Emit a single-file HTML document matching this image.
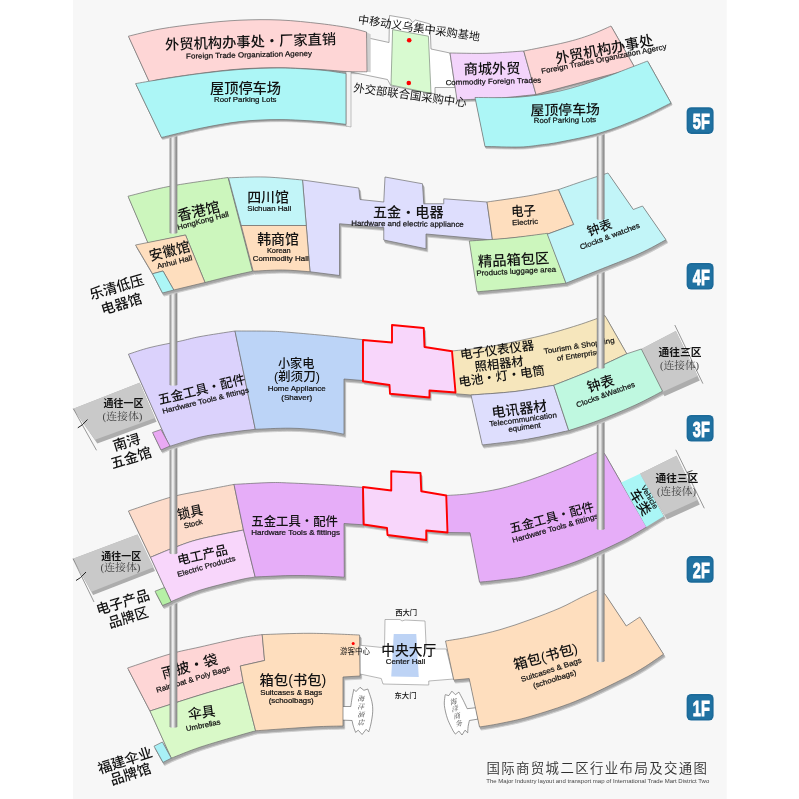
<!DOCTYPE html>
<html lang="zh-CN"><head><meta charset="utf-8"><title>国际商贸城二区行业布局及交通图</title>
<style>html,body{margin:0;padding:0;background:#fff;}body{width:799px;height:799px;overflow:hidden;}svg{display:block;}</style>
</head><body>
<svg width="799" height="799" viewBox="0 0 799 799">
<defs>
<linearGradient id="pil" x1="0" x2="1" y1="0" y2="0">
<stop offset="0" stop-color="#7e7e7e"/><stop offset="0.12" stop-color="#a2a2a2"/><stop offset="0.4" stop-color="#f4f4f4"/><stop offset="0.52" stop-color="#e2e2e2"/><stop offset="0.78" stop-color="#a0a0a0"/><stop offset="0.92" stop-color="#8c8c8c"/><stop offset="1" stop-color="#777777"/>
</linearGradient>
</defs>
<rect x="0" y="0" width="799" height="799" fill="#ffffff"/>
<rect x="73" y="0" width="653.7" height="799" fill="#f7f7f7"/>
<g id="f1">
<g transform="translate(1.7,3.1)" fill="#c8c8c8" stroke="#c8c8c8" stroke-width="0.8" stroke-linejoin="round">
<path d="M127.60 668.00 C134.67 665.67 157.93 657.50 170.00 654.00 C182.07 650.50 188.33 649.67 200.00 647.00 C211.67 644.33 229.63 640.07 240.00 638.00 C250.37 635.93 258.50 635.17 262.20 634.60 L264.60 660.50 L240.30 666.00 L243.30 682.40 C236.08 684.50 215.55 690.23 200.00 695.00 C184.45 699.77 158.33 708.33 150.00 711.00 Z"/>
<path d="M150.00 711.00 C158.33 708.33 184.45 699.77 200.00 695.00 C215.55 690.23 236.08 684.50 243.30 682.40 L255.60 730.80 C253.00 731.53 249.27 732.47 240.00 735.20 C230.73 737.93 211.45 743.37 200.00 747.20 C188.55 751.03 176.08 756.37 171.30 758.20 Z"/>
<path d="M154.00 746.20 L162.40 742.00 L171.30 758.20 L163.00 762.40 Z"/>
<path d="M262.20 634.60 C270.17 634.38 293.77 633.23 310.00 633.30 C326.23 633.37 351.33 634.72 359.60 635.00 L360.00 676.00 L343.00 677.00 L343.00 726.00 C339.17 726.10 328.83 726.20 320.00 726.60 C311.17 727.00 300.73 727.70 290.00 728.40 C279.27 729.10 261.33 730.40 255.60 730.80 L243.30 682.40 L240.30 666.00 L264.60 660.50 Z"/>
<path d="M445.50 641.00 C449.58 640.30 460.92 638.68 470.00 636.80 C479.08 634.92 490.00 632.55 500.00 629.70 C510.00 626.85 520.00 623.32 530.00 619.70 C540.00 616.08 551.50 611.70 560.00 608.00 C568.50 604.30 574.75 600.50 581.00 597.50 C587.25 594.50 594.75 591.25 597.50 590.00 L605.00 594.00 L626.25 626.00 L639.80 617.00 L663.50 654.20 C660.08 656.50 650.25 663.62 643.00 668.00 C635.75 672.38 631.33 674.92 620.00 680.50 C608.67 686.08 590.00 695.50 575.00 701.50 C560.00 707.50 542.50 712.83 530.00 716.50 C517.50 720.17 508.42 721.75 500.00 723.50 C491.58 725.25 482.92 726.42 479.50 727.00 L469.20 678.60 L453.75 680.00 Z"/>
</g>
<g transform="translate(1.0,2.0)" fill="#a6a6a6" stroke="#a6a6a6" stroke-width="0.8" stroke-linejoin="round">
<path d="M127.60 668.00 C134.67 665.67 157.93 657.50 170.00 654.00 C182.07 650.50 188.33 649.67 200.00 647.00 C211.67 644.33 229.63 640.07 240.00 638.00 C250.37 635.93 258.50 635.17 262.20 634.60 L264.60 660.50 L240.30 666.00 L243.30 682.40 C236.08 684.50 215.55 690.23 200.00 695.00 C184.45 699.77 158.33 708.33 150.00 711.00 Z"/>
<path d="M150.00 711.00 C158.33 708.33 184.45 699.77 200.00 695.00 C215.55 690.23 236.08 684.50 243.30 682.40 L255.60 730.80 C253.00 731.53 249.27 732.47 240.00 735.20 C230.73 737.93 211.45 743.37 200.00 747.20 C188.55 751.03 176.08 756.37 171.30 758.20 Z"/>
<path d="M154.00 746.20 L162.40 742.00 L171.30 758.20 L163.00 762.40 Z"/>
<path d="M262.20 634.60 C270.17 634.38 293.77 633.23 310.00 633.30 C326.23 633.37 351.33 634.72 359.60 635.00 L360.00 676.00 L343.00 677.00 L343.00 726.00 C339.17 726.10 328.83 726.20 320.00 726.60 C311.17 727.00 300.73 727.70 290.00 728.40 C279.27 729.10 261.33 730.40 255.60 730.80 L243.30 682.40 L240.30 666.00 L264.60 660.50 Z"/>
<path d="M445.50 641.00 C449.58 640.30 460.92 638.68 470.00 636.80 C479.08 634.92 490.00 632.55 500.00 629.70 C510.00 626.85 520.00 623.32 530.00 619.70 C540.00 616.08 551.50 611.70 560.00 608.00 C568.50 604.30 574.75 600.50 581.00 597.50 C587.25 594.50 594.75 591.25 597.50 590.00 L605.00 594.00 L626.25 626.00 L639.80 617.00 L663.50 654.20 C660.08 656.50 650.25 663.62 643.00 668.00 C635.75 672.38 631.33 674.92 620.00 680.50 C608.67 686.08 590.00 695.50 575.00 701.50 C560.00 707.50 542.50 712.83 530.00 716.50 C517.50 720.17 508.42 721.75 500.00 723.50 C491.58 725.25 482.92 726.42 479.50 727.00 L469.20 678.60 L453.75 680.00 Z"/>
</g>
<path d="M353.80 689.40 L356.00 691.60 L360.00 687.30 L363.90 690.30 L367.80 689.00 C368.47 691.05 370.98 697.50 371.80 701.30 C372.62 705.10 372.85 708.02 372.70 711.80 C372.55 715.58 371.57 720.65 370.90 724.00 C370.23 727.35 369.07 730.58 368.70 731.90 L366.10 729.30 L362.10 734.50 L358.20 730.20 L355.60 732.40 L353.80 727.50 C353.63 726.92 353.08 725.17 352.80 724.00 C352.52 722.83 352.22 721.08 352.10 720.50 L342.40 720.10 L342.40 706.50 L350.80 706.50 C351.02 705.05 351.60 700.65 352.10 697.80 C352.60 694.95 353.52 690.80 353.80 689.40 Z" fill="#ffffff" stroke="#555" stroke-width="0.6" stroke-linejoin="round"/>
<path d="M445.30 694.70 L448.80 695.60 L451.90 691.20 L455.40 694.70 L458.90 692.10 C459.63 693.48 461.92 697.63 463.30 700.40 C464.68 703.17 466.55 707.32 467.20 708.70 L476.00 707.70 L478.00 719.10 L469.40 720.50 C469.18 721.53 468.38 724.65 468.10 726.70 C467.82 728.75 467.77 731.78 467.70 732.80 L465.00 730.20 L462.00 735.00 L458.90 731.00 L455.40 734.10 L453.20 731.00 C452.25 728.97 448.97 723.03 447.50 718.80 C446.03 714.57 444.83 709.25 444.40 705.60 C443.97 701.95 444.75 698.72 444.90 696.90 C445.05 695.08 445.23 695.07 445.30 694.70 Z" fill="#ffffff" stroke="#555" stroke-width="0.6" stroke-linejoin="round"/>
<path d="M360.00 645.25 L384.50 647.75 L385.00 619.50 L400.00 619.50 L402.00 621.00 L405.00 620.00 L425.00 621.00 L426.25 649.00 L446.25 649.00 L453.75 679.00 L428.75 681.00 L428.75 685.00 L383.00 684.00 L381.25 678.50 L360.00 674.00 Z" fill="#ffffff" stroke="#8a8a8a" stroke-width="0.6" stroke-linejoin="round"/>
<path d="M393.75 634.00 L416.25 634.00 L418.75 677.00 L391.25 676.50 Z" fill="#bdd3f5" stroke="none" stroke-width="0" stroke-linejoin="round"/>
<path d="M127.60 668.00 C134.67 665.67 157.93 657.50 170.00 654.00 C182.07 650.50 188.33 649.67 200.00 647.00 C211.67 644.33 229.63 640.07 240.00 638.00 C250.37 635.93 258.50 635.17 262.20 634.60 L264.60 660.50 L240.30 666.00 L243.30 682.40 C236.08 684.50 215.55 690.23 200.00 695.00 C184.45 699.77 158.33 708.33 150.00 711.00 Z" fill="#fed6d6" stroke="#6e6e6e" stroke-width="0.7" stroke-linejoin="round"/>
<path d="M150.00 711.00 C158.33 708.33 184.45 699.77 200.00 695.00 C215.55 690.23 236.08 684.50 243.30 682.40 L255.60 730.80 C253.00 731.53 249.27 732.47 240.00 735.20 C230.73 737.93 211.45 743.37 200.00 747.20 C188.55 751.03 176.08 756.37 171.30 758.20 Z" fill="#d9f9c8" stroke="#6e6e6e" stroke-width="0.7" stroke-linejoin="round"/>
<path d="M154.00 746.20 L162.40 742.00 L171.30 758.20 L163.00 762.40 Z" fill="#a8f0f6" stroke="#6e6e6e" stroke-width="0.7" stroke-linejoin="round"/>
<path d="M262.20 634.60 C270.17 634.38 293.77 633.23 310.00 633.30 C326.23 633.37 351.33 634.72 359.60 635.00 L360.00 676.00 L343.00 677.00 L343.00 726.00 C339.17 726.10 328.83 726.20 320.00 726.60 C311.17 727.00 300.73 727.70 290.00 728.40 C279.27 729.10 261.33 730.40 255.60 730.80 L243.30 682.40 L240.30 666.00 L264.60 660.50 Z" fill="#fedebe" stroke="#6e6e6e" stroke-width="0.7" stroke-linejoin="round"/>
<path d="M445.50 641.00 C449.58 640.30 460.92 638.68 470.00 636.80 C479.08 634.92 490.00 632.55 500.00 629.70 C510.00 626.85 520.00 623.32 530.00 619.70 C540.00 616.08 551.50 611.70 560.00 608.00 C568.50 604.30 574.75 600.50 581.00 597.50 C587.25 594.50 594.75 591.25 597.50 590.00 L605.00 594.00 L626.25 626.00 L639.80 617.00 L663.50 654.20 C660.08 656.50 650.25 663.62 643.00 668.00 C635.75 672.38 631.33 674.92 620.00 680.50 C608.67 686.08 590.00 695.50 575.00 701.50 C560.00 707.50 542.50 712.83 530.00 716.50 C517.50 720.17 508.42 721.75 500.00 723.50 C491.58 725.25 482.92 726.42 479.50 727.00 L469.20 678.60 L453.75 680.00 Z" fill="#fedebe" stroke="#6e6e6e" stroke-width="0.7" stroke-linejoin="round"/>
<circle cx="353.2" cy="643.5" r="1.5" fill="#f00"/>
<g opacity="0.995">
<text x="189.70" y="671.50" font-size="14.30" font-weight="500" font-family="'Liberation Sans','Noto Sans CJK SC',sans-serif" fill="#111" text-anchor="middle" textLength="57.5" lengthAdjust="spacingAndGlyphs" transform="rotate(-15.0 189.70 666.50)" >雨披・袋</text>
<text x="193.00" y="681.59" font-size="7.40" font-weight="400" font-family="'Liberation Sans',sans-serif" fill="#111" text-anchor="middle" textLength="77.0" lengthAdjust="spacingAndGlyphs" transform="rotate(-17.0 193.00 679.00)" stroke="#111" stroke-width="0.22">Raincoat &amp; Poly Bags</text>
<text x="201.70" y="717.60" font-size="14.00" font-weight="500" font-family="'Liberation Sans','Noto Sans CJK SC',sans-serif" fill="#111" text-anchor="middle" textLength="27.5" lengthAdjust="spacingAndGlyphs" transform="rotate(-8.0 201.70 712.70)" >伞具</text>
<text x="203.20" y="727.79" font-size="7.40" font-weight="400" font-family="'Liberation Sans',sans-serif" fill="#111" text-anchor="middle" textLength="35.0" lengthAdjust="spacingAndGlyphs" transform="rotate(-12.0 203.20 725.20)" stroke="#111" stroke-width="0.22">Umbrellas</text>
<text x="125.00" y="765.40" font-size="14.00" font-weight="500" font-family="'Liberation Sans','Noto Sans CJK SC',sans-serif" fill="#111" text-anchor="middle" textLength="56.5" lengthAdjust="spacingAndGlyphs" transform="rotate(-18.0 125.00 760.50)" >福建伞业</text>
<text x="130.50" y="779.10" font-size="14.00" font-weight="500" font-family="'Liberation Sans','Noto Sans CJK SC',sans-serif" fill="#111" text-anchor="middle" textLength="42.0" lengthAdjust="spacingAndGlyphs" transform="rotate(-18.0 130.50 774.20)" >品牌馆</text>
<text x="292.90" y="685.10" font-size="14.00" font-weight="500" font-family="'Liberation Sans','Noto Sans CJK SC',sans-serif" fill="#111" text-anchor="middle" textLength="66.7" lengthAdjust="spacingAndGlyphs" >箱包(书包)</text>
<text x="291.20" y="694.59" font-size="7.40" font-weight="400" font-family="'Liberation Sans',sans-serif" fill="#111" text-anchor="middle" textLength="62.0" lengthAdjust="spacingAndGlyphs" stroke="#111" stroke-width="0.22">Suitcases &amp; Bags</text>
<text x="291.20" y="702.79" font-size="7.40" font-weight="400" font-family="'Liberation Sans',sans-serif" fill="#111" text-anchor="middle" textLength="45.0" lengthAdjust="spacingAndGlyphs" stroke="#111" stroke-width="0.22">(schoolbags)</text>
<text x="355.00" y="654.33" font-size="7.50" font-weight="400" font-family="'Liberation Sans','Noto Sans CJK SC',sans-serif" fill="#111" text-anchor="middle" textLength="30.0" lengthAdjust="spacingAndGlyphs" >游客中心</text>
<text x="408.70" y="655.03" font-size="13.80" font-weight="500" font-family="'Liberation Sans','Noto Sans CJK SC',sans-serif" fill="#111" text-anchor="middle" textLength="55.0" lengthAdjust="spacingAndGlyphs" >中央大厅</text>
<text x="405.50" y="663.59" font-size="7.40" font-weight="400" font-family="'Liberation Sans',sans-serif" fill="#111" text-anchor="middle" textLength="39.5" lengthAdjust="spacingAndGlyphs" stroke="#111" stroke-width="0.22">Center Hall</text>
<text x="406.20" y="615.29" font-size="7.40" font-weight="500" font-family="'Liberation Sans','Noto Sans CJK SC',sans-serif" fill="#111" text-anchor="middle" textLength="22.0" lengthAdjust="spacingAndGlyphs" >西大门</text>
<text x="405.50" y="697.79" font-size="7.40" font-weight="500" font-family="'Liberation Sans','Noto Sans CJK SC',sans-serif" fill="#111" text-anchor="middle" textLength="22.0" lengthAdjust="spacingAndGlyphs" >东大门</text>
<text x="545.50" y="661.40" font-size="14.00" font-weight="500" font-family="'Liberation Sans','Noto Sans CJK SC',sans-serif" fill="#111" text-anchor="middle" textLength="66.0" lengthAdjust="spacingAndGlyphs" transform="rotate(-15.3 545.50 656.50)" >箱包(书包)</text>
<text x="551.20" y="672.29" font-size="7.40" font-weight="400" font-family="'Liberation Sans',sans-serif" fill="#111" text-anchor="middle" textLength="63.5" lengthAdjust="spacingAndGlyphs" transform="rotate(-18.0 551.20 669.70)" stroke="#111" stroke-width="0.22">Suitcases &amp; Bags</text>
<text x="554.50" y="681.59" font-size="7.40" font-weight="400" font-family="'Liberation Sans',sans-serif" fill="#111" text-anchor="middle" textLength="45.0" lengthAdjust="spacingAndGlyphs" transform="rotate(-18.0 554.50 679.00)" stroke="#111" stroke-width="0.22">(schoolbags)</text>
<text x="360.80" y="701.12" font-size="7.00" font-weight="400" font-family="'Liberation Serif','Noto Serif CJK SC',serif" fill="#444" text-anchor="middle" font-style="italic">海</text>
<text x="360.80" y="709.32" font-size="7.00" font-weight="400" font-family="'Liberation Serif','Noto Serif CJK SC',serif" fill="#444" text-anchor="middle" font-style="italic">洋</text>
<text x="360.80" y="717.32" font-size="7.00" font-weight="400" font-family="'Liberation Serif','Noto Serif CJK SC',serif" fill="#444" text-anchor="middle" font-style="italic">酒</text>
<text x="360.80" y="725.12" font-size="7.00" font-weight="400" font-family="'Liberation Serif','Noto Serif CJK SC',serif" fill="#444" text-anchor="middle" font-style="italic">店</text>
<text x="453.20" y="704.22" font-size="7.00" font-weight="400" font-family="'Liberation Serif','Noto Serif CJK SC',serif" fill="#444" text-anchor="middle" transform="rotate(-13.0 453.20 701.70)" font-style="italic">海</text>
<text x="454.70" y="711.32" font-size="7.00" font-weight="400" font-family="'Liberation Serif','Noto Serif CJK SC',serif" fill="#444" text-anchor="middle" transform="rotate(-13.0 454.70 708.80)" font-style="italic">洋</text>
<text x="456.70" y="718.42" font-size="7.00" font-weight="400" font-family="'Liberation Serif','Noto Serif CJK SC',serif" fill="#444" text-anchor="middle" transform="rotate(-13.0 456.70 715.90)" font-style="italic">商</text>
<text x="458.60" y="725.92" font-size="7.00" font-weight="400" font-family="'Liberation Serif','Noto Serif CJK SC',serif" fill="#444" text-anchor="middle" transform="rotate(-13.0 458.60 723.40)" font-style="italic">务</text>
</g>
</g>
<rect x="169.60" y="603.00" width="7.70" height="123.50" fill="url(#pil)"/><ellipse cx="173.45" cy="726.50" rx="3.85" ry="1.2" fill="url(#pil)"/>
<rect x="596.80" y="552.00" width="7.70" height="109.00" fill="url(#pil)"/><ellipse cx="600.65" cy="661.00" rx="3.85" ry="1.2" fill="url(#pil)"/>
<g id="f2">
<g transform="translate(1.7,3.1)" fill="#c8c8c8" stroke="#c8c8c8" stroke-width="0.8" stroke-linejoin="round">
<path d="M128.40 511.00 C132.00 509.78 142.23 506.20 150.00 503.70 C157.77 501.20 166.67 498.12 175.00 496.00 C183.33 493.88 190.17 492.93 200.00 491.00 C209.83 489.07 228.33 485.50 234.00 484.40 L243.50 530.00 C236.25 531.50 211.42 536.12 200.00 539.00 C188.58 541.88 183.25 544.25 175.00 547.30 C166.75 550.35 154.58 555.63 150.50 557.30 Z"/>
<path d="M150.50 557.30 C154.58 555.63 166.75 550.35 175.00 547.30 C183.25 544.25 188.58 541.88 200.00 539.00 C211.42 536.12 236.25 531.50 243.50 530.00 L255.20 577.00 C252.67 577.47 249.20 577.60 240.00 579.80 C230.80 582.00 211.50 586.57 200.00 590.20 C188.50 593.83 175.83 599.70 171.00 601.60 Z"/>
<path d="M155.00 591.25 L164.50 587.50 L171.25 602.00 L162.50 605.50 Z"/>
<path d="M234.00 484.40 C240.00 484.10 260.67 482.83 270.00 482.60 C279.33 482.37 280.00 482.60 290.00 483.00 C300.00 483.40 317.92 484.27 330.00 485.00 C342.08 485.73 357.08 487.00 362.50 487.40 L363.00 524.80 L344.00 523.50 L344.30 577.20 C340.25 577.00 329.05 576.27 320.00 576.00 C310.95 575.73 300.80 575.43 290.00 575.60 C279.20 575.77 261.00 576.77 255.20 577.00 L243.50 530.00 Z"/>
<path d="M446.25 495.50 C450.21 495.20 461.04 494.83 470.00 493.70 C478.96 492.57 490.00 491.00 500.00 488.70 C510.00 486.40 520.00 483.25 530.00 479.90 C540.00 476.55 551.50 471.98 560.00 468.60 C568.50 465.22 574.75 462.32 581.00 459.60 C587.25 456.88 594.75 453.52 597.50 452.30 L604.50 453.50 L621.25 482.80 L646.70 527.00 C642.25 529.50 631.95 536.17 620.00 542.00 C608.05 547.83 590.00 556.43 575.00 562.00 C560.00 567.57 542.50 572.40 530.00 575.40 C517.50 578.40 508.42 578.87 500.00 580.00 C491.58 581.13 482.92 581.83 479.50 582.20 L470.00 532.80 L447.50 532.50 Z"/>
<path d="M621.25 482.50 L640.00 473.75 L663.75 516.25 L646.25 527.00 Z"/>
<path d="M363.00 487.00 L391.25 490.50 L391.25 471.25 L420.50 473.00 L421.25 491.25 L446.25 495.50 L447.50 532.50 L426.25 530.50 L426.25 540.00 L387.50 535.00 L387.00 528.00 L363.75 524.50 Z"/>
</g>
<g transform="translate(1.0,2.0)" fill="#a6a6a6" stroke="#a6a6a6" stroke-width="0.8" stroke-linejoin="round">
<path d="M128.40 511.00 C132.00 509.78 142.23 506.20 150.00 503.70 C157.77 501.20 166.67 498.12 175.00 496.00 C183.33 493.88 190.17 492.93 200.00 491.00 C209.83 489.07 228.33 485.50 234.00 484.40 L243.50 530.00 C236.25 531.50 211.42 536.12 200.00 539.00 C188.58 541.88 183.25 544.25 175.00 547.30 C166.75 550.35 154.58 555.63 150.50 557.30 Z"/>
<path d="M150.50 557.30 C154.58 555.63 166.75 550.35 175.00 547.30 C183.25 544.25 188.58 541.88 200.00 539.00 C211.42 536.12 236.25 531.50 243.50 530.00 L255.20 577.00 C252.67 577.47 249.20 577.60 240.00 579.80 C230.80 582.00 211.50 586.57 200.00 590.20 C188.50 593.83 175.83 599.70 171.00 601.60 Z"/>
<path d="M155.00 591.25 L164.50 587.50 L171.25 602.00 L162.50 605.50 Z"/>
<path d="M234.00 484.40 C240.00 484.10 260.67 482.83 270.00 482.60 C279.33 482.37 280.00 482.60 290.00 483.00 C300.00 483.40 317.92 484.27 330.00 485.00 C342.08 485.73 357.08 487.00 362.50 487.40 L363.00 524.80 L344.00 523.50 L344.30 577.20 C340.25 577.00 329.05 576.27 320.00 576.00 C310.95 575.73 300.80 575.43 290.00 575.60 C279.20 575.77 261.00 576.77 255.20 577.00 L243.50 530.00 Z"/>
<path d="M446.25 495.50 C450.21 495.20 461.04 494.83 470.00 493.70 C478.96 492.57 490.00 491.00 500.00 488.70 C510.00 486.40 520.00 483.25 530.00 479.90 C540.00 476.55 551.50 471.98 560.00 468.60 C568.50 465.22 574.75 462.32 581.00 459.60 C587.25 456.88 594.75 453.52 597.50 452.30 L604.50 453.50 L621.25 482.80 L646.70 527.00 C642.25 529.50 631.95 536.17 620.00 542.00 C608.05 547.83 590.00 556.43 575.00 562.00 C560.00 567.57 542.50 572.40 530.00 575.40 C517.50 578.40 508.42 578.87 500.00 580.00 C491.58 581.13 482.92 581.83 479.50 582.20 L470.00 532.80 L447.50 532.50 Z"/>
<path d="M621.25 482.50 L640.00 473.75 L663.75 516.25 L646.25 527.00 Z"/>
<path d="M363.00 487.00 L391.25 490.50 L391.25 471.25 L420.50 473.00 L421.25 491.25 L446.25 495.50 L447.50 532.50 L426.25 530.50 L426.25 540.00 L387.50 535.00 L387.00 528.00 L363.75 524.50 Z"/>
</g>
<path d="M73.00 558.75 L137.50 534.50 L155.00 571.00 L93.10 595.00 Z" fill="#adadad" stroke="none" stroke-width="0" stroke-linejoin="round"/>
<path d="M73.00 558.75 L137.50 534.50 L153.50 567.30 L91.50 591.70 Z" fill="#c9c9c9" stroke="none" stroke-width="0" stroke-linejoin="round"/>
<path d="M640.00 473.75 L676.50 455.80 L699.80 504.50 L666.80 519.50 Z" fill="#adadad" stroke="none" stroke-width="0" stroke-linejoin="round"/>
<path d="M640.00 473.75 L676.50 455.80 L697.50 500.00 L664.50 515.00 Z" fill="#c9c9c9" stroke="none" stroke-width="0" stroke-linejoin="round"/>
<path d="M128.40 511.00 C132.00 509.78 142.23 506.20 150.00 503.70 C157.77 501.20 166.67 498.12 175.00 496.00 C183.33 493.88 190.17 492.93 200.00 491.00 C209.83 489.07 228.33 485.50 234.00 484.40 L243.50 530.00 C236.25 531.50 211.42 536.12 200.00 539.00 C188.58 541.88 183.25 544.25 175.00 547.30 C166.75 550.35 154.58 555.63 150.50 557.30 Z" fill="#fddccb" stroke="#6e6e6e" stroke-width="0.7" stroke-linejoin="round"/>
<path d="M150.50 557.30 C154.58 555.63 166.75 550.35 175.00 547.30 C183.25 544.25 188.58 541.88 200.00 539.00 C211.42 536.12 236.25 531.50 243.50 530.00 L255.20 577.00 C252.67 577.47 249.20 577.60 240.00 579.80 C230.80 582.00 211.50 586.57 200.00 590.20 C188.50 593.83 175.83 599.70 171.00 601.60 Z" fill="#f8d6fb" stroke="#6e6e6e" stroke-width="0.7" stroke-linejoin="round"/>
<path d="M155.00 591.25 L164.50 587.50 L171.25 602.00 L162.50 605.50 Z" fill="#b6f0a6" stroke="#6e6e6e" stroke-width="0.7" stroke-linejoin="round"/>
<path d="M234.00 484.40 C240.00 484.10 260.67 482.83 270.00 482.60 C279.33 482.37 280.00 482.60 290.00 483.00 C300.00 483.40 317.92 484.27 330.00 485.00 C342.08 485.73 357.08 487.00 362.50 487.40 L363.00 524.80 L344.00 523.50 L344.30 577.20 C340.25 577.00 329.05 576.27 320.00 576.00 C310.95 575.73 300.80 575.43 290.00 575.60 C279.20 575.77 261.00 576.77 255.20 577.00 L243.50 530.00 Z" fill="#e6adf8" stroke="#6e6e6e" stroke-width="0.7" stroke-linejoin="round"/>
<path d="M446.25 495.50 C450.21 495.20 461.04 494.83 470.00 493.70 C478.96 492.57 490.00 491.00 500.00 488.70 C510.00 486.40 520.00 483.25 530.00 479.90 C540.00 476.55 551.50 471.98 560.00 468.60 C568.50 465.22 574.75 462.32 581.00 459.60 C587.25 456.88 594.75 453.52 597.50 452.30 L604.50 453.50 L621.25 482.80 L646.70 527.00 C642.25 529.50 631.95 536.17 620.00 542.00 C608.05 547.83 590.00 556.43 575.00 562.00 C560.00 567.57 542.50 572.40 530.00 575.40 C517.50 578.40 508.42 578.87 500.00 580.00 C491.58 581.13 482.92 581.83 479.50 582.20 L470.00 532.80 L447.50 532.50 Z" fill="#e6adf8" stroke="#6e6e6e" stroke-width="0.7" stroke-linejoin="round"/>
<path d="M621.25 482.50 L640.00 473.75 L663.75 516.25 L646.25 527.00 Z" fill="#aaf6f6" stroke="none" stroke-width="0" stroke-linejoin="round"/>
<path d="M363.00 487.00 L391.25 490.50 L391.25 471.25 L420.50 473.00 L421.25 491.25 L446.25 495.50 L447.50 532.50 L426.25 530.50 L426.25 540.00 L387.50 535.00 L387.00 528.00 L363.75 524.50 Z" fill="#f8d6fb" stroke="#ff0000" stroke-width="1.9" stroke-linejoin="round"/>
<path d="M73 558.7 L94 602 M675.8 449.8 L704.3 508.3" stroke="#555" stroke-width="0.6" fill="none"/><path d="M76 580.5 Q80 579 86 572" stroke="#222" stroke-width="1" fill="none"/><path d="M687 472.5 L692.5 470.5" stroke="#222" stroke-width="0.8" fill="none"/>
<g opacity="0.995">
<text x="190.00" y="517.23" font-size="13.50" font-weight="500" font-family="'Liberation Sans','Noto Sans CJK SC',sans-serif" fill="#111" text-anchor="middle" textLength="26.0" lengthAdjust="spacingAndGlyphs" transform="rotate(-12.0 190.00 512.50)" >锁具</text>
<text x="193.20" y="526.29" font-size="7.40" font-weight="400" font-family="'Liberation Sans',sans-serif" fill="#111" text-anchor="middle" textLength="19.0" lengthAdjust="spacingAndGlyphs" transform="rotate(-14.0 193.20 523.70)" stroke="#111" stroke-width="0.22">Stock</text>
<text x="202.50" y="559.48" font-size="12.80" font-weight="500" font-family="'Liberation Sans','Noto Sans CJK SC',sans-serif" fill="#111" text-anchor="middle" textLength="51.0" lengthAdjust="spacingAndGlyphs" transform="rotate(-12.7 202.50 555.00)" >电工产品</text>
<text x="206.20" y="568.79" font-size="7.40" font-weight="400" font-family="'Liberation Sans',sans-serif" fill="#111" text-anchor="middle" textLength="60.0" lengthAdjust="spacingAndGlyphs" transform="rotate(-16.0 206.20 566.20)" stroke="#111" stroke-width="0.22">Electric Products</text>
<text x="121.20" y="559.70" font-size="10.00" font-weight="700" font-family="'Liberation Sans','Noto Sans CJK SC',sans-serif" fill="#111" text-anchor="middle" textLength="40.0" lengthAdjust="spacingAndGlyphs" >通往一区</text>
<text x="120.50" y="571.10" font-size="10.00" font-weight="400" font-family="'Liberation Serif','Noto Serif CJK SC',serif" fill="#444" text-anchor="middle" textLength="40.0" lengthAdjust="spacingAndGlyphs" >(连接体)</text>
<text x="122.80" y="607.20" font-size="14.00" font-weight="500" font-family="'Liberation Sans','Noto Sans CJK SC',sans-serif" fill="#111" text-anchor="middle" textLength="55.0" lengthAdjust="spacingAndGlyphs" transform="rotate(-17.0 122.80 602.30)" >电子产品</text>
<text x="128.20" y="622.50" font-size="14.00" font-weight="500" font-family="'Liberation Sans','Noto Sans CJK SC',sans-serif" fill="#111" text-anchor="middle" textLength="41.0" lengthAdjust="spacingAndGlyphs" transform="rotate(-17.0 128.20 617.60)" >品牌区</text>
<text x="294.60" y="525.54" font-size="12.40" font-weight="500" font-family="'Liberation Sans','Noto Sans CJK SC',sans-serif" fill="#111" text-anchor="middle" textLength="86.7" lengthAdjust="spacingAndGlyphs" >五金工具・配件</text>
<text x="295.60" y="535.09" font-size="7.40" font-weight="400" font-family="'Liberation Sans',sans-serif" fill="#111" text-anchor="middle" textLength="88.7" lengthAdjust="spacingAndGlyphs" stroke="#111" stroke-width="0.22">Hardware Tools &amp; fittings</text>
<text x="551.70" y="521.84" font-size="12.40" font-weight="500" font-family="'Liberation Sans','Noto Sans CJK SC',sans-serif" fill="#111" text-anchor="middle" textLength="86.7" lengthAdjust="spacingAndGlyphs" transform="rotate(-15.0 551.70 517.50)" >五金工具・配件</text>
<text x="555.20" y="530.59" font-size="7.40" font-weight="400" font-family="'Liberation Sans',sans-serif" fill="#111" text-anchor="middle" textLength="89.0" lengthAdjust="spacingAndGlyphs" transform="rotate(-16.0 555.20 528.00)" stroke="#111" stroke-width="0.22">Hardware Tools &amp; fittings</text>
<text x="640.30" y="506.96" font-size="13.60" font-weight="500" font-family="'Liberation Sans','Noto Sans CJK SC',sans-serif" fill="#111" text-anchor="middle" textLength="28.5" lengthAdjust="spacingAndGlyphs" transform="rotate(58.0 640.30 502.20)" >车类</text>
<text x="649.60" y="499.62" font-size="7.50" font-weight="400" font-family="'Liberation Sans',sans-serif" fill="#111" text-anchor="middle" textLength="26.0" lengthAdjust="spacingAndGlyphs" transform="rotate(59.0 649.60 497.00)" stroke="#111" stroke-width="0.22">Vehicle</text>
<text x="676.90" y="482.38" font-size="10.50" font-weight="700" font-family="'Liberation Sans','Noto Sans CJK SC',sans-serif" fill="#111" text-anchor="middle" textLength="42.8" lengthAdjust="spacingAndGlyphs" >通往三区</text>
<text x="676.50" y="494.60" font-size="10.00" font-weight="400" font-family="'Liberation Serif','Noto Serif CJK SC',serif" fill="#444" text-anchor="middle" textLength="39.0" lengthAdjust="spacingAndGlyphs" >(连接体)</text>
</g>
</g>
<rect x="169.60" y="446.00" width="7.70" height="107.00" fill="url(#pil)"/><ellipse cx="173.45" cy="553.00" rx="3.85" ry="1.2" fill="url(#pil)"/>
<rect x="596.80" y="418.00" width="7.70" height="110.70" fill="url(#pil)"/><ellipse cx="600.65" cy="528.70" rx="3.85" ry="1.2" fill="url(#pil)"/>
<g id="f3">
<g transform="translate(1.7,3.1)" fill="#c8c8c8" stroke="#c8c8c8" stroke-width="0.8" stroke-linejoin="round">
<path d="M128.40 354.20 C132.00 353.08 141.40 349.67 150.00 347.50 C158.60 345.33 171.67 343.02 180.00 341.20 C188.33 339.38 190.83 338.30 200.00 336.60 C209.17 334.90 229.17 331.93 235.00 331.00 L255.30 429.30 C250.25 429.92 234.22 431.68 225.00 433.00 C215.78 434.32 209.25 434.97 200.00 437.20 C190.75 439.43 174.58 444.87 169.50 446.40 Z"/>
<path d="M152.50 432.50 L161.00 429.50 L170.00 446.00 L161.00 450.00 Z"/>
<path d="M235.00 331.00 C240.83 331.03 260.83 330.97 270.00 331.20 C279.17 331.43 280.00 331.60 290.00 332.40 C300.00 333.20 317.92 334.80 330.00 336.00 C342.08 337.20 357.08 339.00 362.50 339.60 L362.50 380.50 L344.00 379.00 L344.00 434.20 C340.00 433.53 329.00 431.20 320.00 430.20 C311.00 429.20 300.78 428.35 290.00 428.20 C279.22 428.05 261.08 429.12 255.30 429.30 Z"/>
<path d="M452.00 351.00 C458.33 350.25 475.33 349.00 490.00 346.50 C504.67 344.00 525.42 339.53 540.00 336.00 C554.58 332.47 566.67 328.70 577.50 325.30 C588.33 321.90 600.42 317.22 605.00 315.60 L626.80 353.80 C620.67 356.63 602.17 365.55 590.00 370.80 C577.83 376.05 559.79 382.88 553.75 385.30 C547.29 386.33 528.79 389.88 515.00 391.50 C501.21 393.12 478.33 394.42 471.00 395.00 L455.50 393.75 Z"/>
<path d="M471.00 395.00 C478.33 394.42 501.21 393.12 515.00 391.50 C528.79 389.88 547.29 386.33 553.75 385.30 L568.75 430.60 C561.88 432.03 541.91 436.80 527.50 439.20 C513.09 441.60 489.83 444.03 482.30 445.00 Z"/>
<path d="M553.75 385.30 C559.79 382.88 577.83 376.05 590.00 370.80 C602.17 365.55 620.67 356.63 626.80 353.80 L641.30 349.00 L662.50 391.20 C657.92 393.53 645.83 400.27 635.00 405.20 C624.17 410.13 608.54 416.57 597.50 420.80 C586.46 425.03 573.54 428.97 568.75 430.60 Z"/>
<path d="M363.00 340.00 L392.00 342.50 L392.00 325.00 L423.75 328.00 L424.50 347.00 L452.00 351.25 L455.50 392.50 L429.50 390.50 L429.50 397.50 L390.00 393.75 L389.50 385.00 L363.00 381.25 Z"/>
</g>
<g transform="translate(1.0,2.0)" fill="#a6a6a6" stroke="#a6a6a6" stroke-width="0.8" stroke-linejoin="round">
<path d="M128.40 354.20 C132.00 353.08 141.40 349.67 150.00 347.50 C158.60 345.33 171.67 343.02 180.00 341.20 C188.33 339.38 190.83 338.30 200.00 336.60 C209.17 334.90 229.17 331.93 235.00 331.00 L255.30 429.30 C250.25 429.92 234.22 431.68 225.00 433.00 C215.78 434.32 209.25 434.97 200.00 437.20 C190.75 439.43 174.58 444.87 169.50 446.40 Z"/>
<path d="M152.50 432.50 L161.00 429.50 L170.00 446.00 L161.00 450.00 Z"/>
<path d="M235.00 331.00 C240.83 331.03 260.83 330.97 270.00 331.20 C279.17 331.43 280.00 331.60 290.00 332.40 C300.00 333.20 317.92 334.80 330.00 336.00 C342.08 337.20 357.08 339.00 362.50 339.60 L362.50 380.50 L344.00 379.00 L344.00 434.20 C340.00 433.53 329.00 431.20 320.00 430.20 C311.00 429.20 300.78 428.35 290.00 428.20 C279.22 428.05 261.08 429.12 255.30 429.30 Z"/>
<path d="M452.00 351.00 C458.33 350.25 475.33 349.00 490.00 346.50 C504.67 344.00 525.42 339.53 540.00 336.00 C554.58 332.47 566.67 328.70 577.50 325.30 C588.33 321.90 600.42 317.22 605.00 315.60 L626.80 353.80 C620.67 356.63 602.17 365.55 590.00 370.80 C577.83 376.05 559.79 382.88 553.75 385.30 C547.29 386.33 528.79 389.88 515.00 391.50 C501.21 393.12 478.33 394.42 471.00 395.00 L455.50 393.75 Z"/>
<path d="M471.00 395.00 C478.33 394.42 501.21 393.12 515.00 391.50 C528.79 389.88 547.29 386.33 553.75 385.30 L568.75 430.60 C561.88 432.03 541.91 436.80 527.50 439.20 C513.09 441.60 489.83 444.03 482.30 445.00 Z"/>
<path d="M553.75 385.30 C559.79 382.88 577.83 376.05 590.00 370.80 C602.17 365.55 620.67 356.63 626.80 353.80 L641.30 349.00 L662.50 391.20 C657.92 393.53 645.83 400.27 635.00 405.20 C624.17 410.13 608.54 416.57 597.50 420.80 C586.46 425.03 573.54 428.97 568.75 430.60 Z"/>
<path d="M363.00 340.00 L392.00 342.50 L392.00 325.00 L423.75 328.00 L424.50 347.00 L452.00 351.25 L455.50 392.50 L429.50 390.50 L429.50 397.50 L390.00 393.75 L389.50 385.00 L363.00 381.25 Z"/>
</g>
<path d="M73.30 408.70 L139.60 382.80 L156.60 421.80 L97.30 443.60 Z" fill="#adadad" stroke="none" stroke-width="0" stroke-linejoin="round"/>
<path d="M73.30 408.70 L139.60 382.80 L155.00 418.00 L95.00 439.80 Z" fill="#c9c9c9" stroke="none" stroke-width="0" stroke-linejoin="round"/>
<path d="M641.30 349.00 L675.80 331.00 L699.80 380.60 L664.50 396.30 Z" fill="#adadad" stroke="none" stroke-width="0" stroke-linejoin="round"/>
<path d="M641.30 349.00 L675.80 331.00 L697.60 376.00 L663.00 391.80 Z" fill="#c9c9c9" stroke="none" stroke-width="0" stroke-linejoin="round"/>
<path d="M128.40 354.20 C132.00 353.08 141.40 349.67 150.00 347.50 C158.60 345.33 171.67 343.02 180.00 341.20 C188.33 339.38 190.83 338.30 200.00 336.60 C209.17 334.90 229.17 331.93 235.00 331.00 L255.30 429.30 C250.25 429.92 234.22 431.68 225.00 433.00 C215.78 434.32 209.25 434.97 200.00 437.20 C190.75 439.43 174.58 444.87 169.50 446.40 Z" fill="#dbd2fc" stroke="#6e6e6e" stroke-width="0.7" stroke-linejoin="round"/>
<path d="M152.50 432.50 L161.00 429.50 L170.00 446.00 L161.00 450.00 Z" fill="#e9a9f3" stroke="#6e6e6e" stroke-width="0.7" stroke-linejoin="round"/>
<path d="M235.00 331.00 C240.83 331.03 260.83 330.97 270.00 331.20 C279.17 331.43 280.00 331.60 290.00 332.40 C300.00 333.20 317.92 334.80 330.00 336.00 C342.08 337.20 357.08 339.00 362.50 339.60 L362.50 380.50 L344.00 379.00 L344.00 434.20 C340.00 433.53 329.00 431.20 320.00 430.20 C311.00 429.20 300.78 428.35 290.00 428.20 C279.22 428.05 261.08 429.12 255.30 429.30 Z" fill="#bcd4f7" stroke="#6e6e6e" stroke-width="0.7" stroke-linejoin="round"/>
<path d="M452.00 351.00 C458.33 350.25 475.33 349.00 490.00 346.50 C504.67 344.00 525.42 339.53 540.00 336.00 C554.58 332.47 566.67 328.70 577.50 325.30 C588.33 321.90 600.42 317.22 605.00 315.60 L626.80 353.80 C620.67 356.63 602.17 365.55 590.00 370.80 C577.83 376.05 559.79 382.88 553.75 385.30 C547.29 386.33 528.79 389.88 515.00 391.50 C501.21 393.12 478.33 394.42 471.00 395.00 L455.50 393.75 Z" fill="#f6e6bc" stroke="#6e6e6e" stroke-width="0.7" stroke-linejoin="round"/>
<path d="M471.00 395.00 C478.33 394.42 501.21 393.12 515.00 391.50 C528.79 389.88 547.29 386.33 553.75 385.30 L568.75 430.60 C561.88 432.03 541.91 436.80 527.50 439.20 C513.09 441.60 489.83 444.03 482.30 445.00 Z" fill="#dedefd" stroke="#6e6e6e" stroke-width="0.7" stroke-linejoin="round"/>
<path d="M553.75 385.30 C559.79 382.88 577.83 376.05 590.00 370.80 C602.17 365.55 620.67 356.63 626.80 353.80 L641.30 349.00 L662.50 391.20 C657.92 393.53 645.83 400.27 635.00 405.20 C624.17 410.13 608.54 416.57 597.50 420.80 C586.46 425.03 573.54 428.97 568.75 430.60 Z" fill="#bff8e0" stroke="#6e6e6e" stroke-width="0.7" stroke-linejoin="round"/>
<path d="M363.00 340.00 L392.00 342.50 L392.00 325.00 L423.75 328.00 L424.50 347.00 L452.00 351.25 L455.50 392.50 L429.50 390.50 L429.50 397.50 L390.00 393.75 L389.50 385.00 L363.00 381.25 Z" fill="#f8d6fb" stroke="#ff0000" stroke-width="1.9" stroke-linejoin="round"/>
<path d="M73.3 408.7 L96.5 450.3 M674.8 325 L702.9 383.6" stroke="#555" stroke-width="0.6" fill="none"/><path d="M77.8 427.8 Q82 426 87.5 419.5" stroke="#222" stroke-width="1" fill="none"/><path d="M683.5 351.5 L690.5 348" stroke="#222" stroke-width="0.8" fill="none"/>
<g opacity="0.995">
<text x="201.70" y="394.05" font-size="13.00" font-weight="500" font-family="'Liberation Sans','Noto Sans CJK SC',sans-serif" fill="#111" text-anchor="middle" textLength="89.0" lengthAdjust="spacingAndGlyphs" transform="rotate(-13.8 201.70 389.50)" >五金工具・配件</text>
<text x="205.50" y="403.06" font-size="7.30" font-weight="400" font-family="'Liberation Sans',sans-serif" fill="#111" text-anchor="middle" textLength="89.0" lengthAdjust="spacingAndGlyphs" transform="rotate(-14.0 205.50 400.50)" stroke="#111" stroke-width="0.22">Hardware Tools &amp; fittings</text>
<text x="123.50" y="407.30" font-size="10.00" font-weight="700" font-family="'Liberation Sans','Noto Sans CJK SC',sans-serif" fill="#111" text-anchor="middle" textLength="40.0" lengthAdjust="spacingAndGlyphs" >通往一区</text>
<text x="122.50" y="419.80" font-size="10.00" font-weight="400" font-family="'Liberation Serif','Noto Serif CJK SC',serif" fill="#444" text-anchor="middle" textLength="40.0" lengthAdjust="spacingAndGlyphs" >(连接体)</text>
<text x="126.80" y="447.20" font-size="14.00" font-weight="500" font-family="'Liberation Sans','Noto Sans CJK SC',sans-serif" fill="#111" text-anchor="middle" textLength="28.0" lengthAdjust="spacingAndGlyphs" transform="rotate(-17.0 126.80 442.30)" >南浔</text>
<text x="131.10" y="462.80" font-size="14.00" font-weight="500" font-family="'Liberation Sans','Noto Sans CJK SC',sans-serif" fill="#111" text-anchor="middle" textLength="42.0" lengthAdjust="spacingAndGlyphs" transform="rotate(-17.0 131.10 457.90)" >五金馆</text>
<text x="296.20" y="368.04" font-size="12.40" font-weight="500" font-family="'Liberation Sans','Noto Sans CJK SC',sans-serif" fill="#111" text-anchor="middle" textLength="36.5" lengthAdjust="spacingAndGlyphs" >小家电</text>
<text x="296.90" y="380.54" font-size="12.40" font-weight="500" font-family="'Liberation Sans','Noto Sans CJK SC',sans-serif" fill="#111" text-anchor="middle" textLength="46.0" lengthAdjust="spacingAndGlyphs" >(剃须刀)</text>
<text x="296.70" y="391.29" font-size="7.40" font-weight="400" font-family="'Liberation Sans',sans-serif" fill="#111" text-anchor="middle" textLength="58.0" lengthAdjust="spacingAndGlyphs" stroke="#111" stroke-width="0.22">Home Appliance</text>
<text x="296.70" y="399.59" font-size="7.40" font-weight="400" font-family="'Liberation Sans',sans-serif" fill="#111" text-anchor="middle" textLength="31.0" lengthAdjust="spacingAndGlyphs" stroke="#111" stroke-width="0.22">(Shaver)</text>
<text x="497.00" y="354.34" font-size="12.40" font-weight="500" font-family="'Liberation Sans','Noto Sans CJK SC',sans-serif" fill="#111" text-anchor="middle" textLength="74.4" lengthAdjust="spacingAndGlyphs" transform="rotate(-7.7 497.00 350.00)" >电子仪表仪器</text>
<text x="499.20" y="368.34" font-size="12.40" font-weight="500" font-family="'Liberation Sans','Noto Sans CJK SC',sans-serif" fill="#111" text-anchor="middle" textLength="49.0" lengthAdjust="spacingAndGlyphs" transform="rotate(-6.7 499.20 364.00)" >照相器材</text>
<text x="501.70" y="380.54" font-size="12.40" font-weight="500" font-family="'Liberation Sans','Noto Sans CJK SC',sans-serif" fill="#111" text-anchor="middle" textLength="87.0" lengthAdjust="spacingAndGlyphs" transform="rotate(-8.0 501.70 376.20)" >电池・灯・电筒</text>
<text x="579.20" y="348.29" font-size="7.40" font-weight="400" font-family="'Liberation Sans',sans-serif" fill="#111" text-anchor="middle" textLength="71.5" lengthAdjust="spacingAndGlyphs" transform="rotate(-9.0 579.20 345.70)" stroke="#111" stroke-width="0.22">Tourism &amp; Shopping</text>
<text x="578.70" y="357.59" font-size="7.40" font-weight="400" font-family="'Liberation Sans',sans-serif" fill="#111" text-anchor="middle" textLength="44.0" lengthAdjust="spacingAndGlyphs" transform="rotate(-9.0 578.70 355.00)" stroke="#111" stroke-width="0.22">of Enterprise</text>
<text x="519.30" y="414.10" font-size="14.00" font-weight="500" font-family="'Liberation Sans','Noto Sans CJK SC',sans-serif" fill="#111" text-anchor="middle" textLength="56.0" lengthAdjust="spacingAndGlyphs" transform="rotate(-7.5 519.30 409.20)" >电讯器材</text>
<text x="523.00" y="422.02" font-size="7.50" font-weight="400" font-family="'Liberation Sans',sans-serif" fill="#111" text-anchor="middle" textLength="68.0" lengthAdjust="spacingAndGlyphs" transform="rotate(-7.8 523.00 419.40)" stroke="#111" stroke-width="0.22">Telecommunication</text>
<text x="524.50" y="429.73" font-size="7.50" font-weight="400" font-family="'Liberation Sans',sans-serif" fill="#111" text-anchor="middle" textLength="32.5" lengthAdjust="spacingAndGlyphs" transform="rotate(-7.8 524.50 427.10)" stroke="#111" stroke-width="0.22">equiment</text>
<text x="600.50" y="388.60" font-size="14.00" font-weight="500" font-family="'Liberation Sans','Noto Sans CJK SC',sans-serif" fill="#111" text-anchor="middle" textLength="27.5" lengthAdjust="spacingAndGlyphs" transform="rotate(-17.0 600.50 383.70)" >钟表</text>
<text x="605.50" y="397.09" font-size="7.40" font-weight="400" font-family="'Liberation Sans',sans-serif" fill="#111" text-anchor="middle" textLength="62.0" lengthAdjust="spacingAndGlyphs" transform="rotate(-19.9 605.50 394.50)" stroke="#111" stroke-width="0.22">Clocks &amp;Watches</text>
<text x="680.00" y="356.18" font-size="10.50" font-weight="700" font-family="'Liberation Sans','Noto Sans CJK SC',sans-serif" fill="#111" text-anchor="middle" textLength="42.8" lengthAdjust="spacingAndGlyphs" >通往三区</text>
<text x="679.60" y="368.50" font-size="10.00" font-weight="400" font-family="'Liberation Serif','Noto Serif CJK SC',serif" fill="#444" text-anchor="middle" textLength="39.0" lengthAdjust="spacingAndGlyphs" >(连接体)</text>
</g>
</g>
<rect x="169.60" y="290.00" width="7.70" height="94.50" fill="url(#pil)"/><ellipse cx="173.45" cy="384.50" rx="3.85" ry="1.2" fill="url(#pil)"/>
<rect x="596.80" y="272.00" width="7.70" height="95.50" fill="url(#pil)"/><ellipse cx="600.65" cy="367.50" rx="3.85" ry="1.2" fill="url(#pil)"/>
<g id="f4">
<g transform="translate(1.7,3.1)" fill="#c8c8c8" stroke="#c8c8c8" stroke-width="0.8" stroke-linejoin="round">
<path d="M302.50 180.00 L358.75 188.00 L360.00 199.50 L383.75 202.00 L385.00 177.00 L422.50 183.75 L423.75 203.75 L443.75 203.75 L443.75 198.75 L487.00 202.00 L492.50 240.00 L426.00 234.00 L426.00 248.75 L383.75 240.00 L383.75 227.50 L339.50 223.75 L339.50 275.50 L310.00 271.75 L306.25 225.50 Z"/>
<path d="M128.00 196.25 C135.00 194.58 153.33 189.38 170.00 186.25 C186.67 183.12 218.33 178.96 228.00 177.50 L252.50 271.25 C248.75 272.08 237.92 274.38 230.00 276.25 C222.08 278.12 209.17 281.46 205.00 282.50 L185.50 235.00 L148.00 243.00 Z"/>
<path d="M135.50 245.00 L185.50 235.00 L205.00 282.50 L173.75 290.00 L163.00 271.00 L152.50 273.75 Z"/>
<path d="M152.50 273.75 L163.00 271.00 L173.75 290.00 L162.50 293.00 Z"/>
<path d="M228.50 177.80 C234.58 177.67 252.67 176.63 265.00 177.00 C277.33 177.37 296.25 179.50 302.50 180.00 L306.25 225.50 L241.25 225.50 Z"/>
<path d="M241.25 225.50 L306.25 225.50 L310.00 271.75 C305.42 271.46 291.97 270.09 282.50 270.00 C273.03 269.91 258.08 271.00 253.20 271.20 Z"/>
<path d="M487.00 202.00 C493.97 200.97 516.88 197.87 528.80 195.80 C540.72 193.73 553.55 190.63 558.50 189.60 L573.75 224.50 L547.30 234.20 L492.50 240.00 Z"/>
<path d="M469.30 241.00 C476.08 240.50 496.97 239.28 510.00 238.00 C523.03 236.72 541.25 234.08 547.50 233.30 L566.00 283.20 C557.50 284.07 529.83 286.97 515.00 288.40 C500.17 289.83 483.33 291.23 477.00 291.80 Z"/>
<path d="M558.50 189.60 C562.75 188.13 575.75 183.57 584.00 180.80 C592.25 178.03 604.00 174.30 608.00 173.00 L633.30 209.50 L642.50 206.00 L666.00 239.80 C661.50 242.13 650.38 248.68 639.00 253.80 C627.62 258.92 609.87 265.60 597.70 270.50 C585.53 275.40 571.28 281.08 566.00 283.20 L547.30 234.20 L573.75 224.50 Z"/>
</g>
<g transform="translate(1.0,2.0)" fill="#a6a6a6" stroke="#a6a6a6" stroke-width="0.8" stroke-linejoin="round">
<path d="M302.50 180.00 L358.75 188.00 L360.00 199.50 L383.75 202.00 L385.00 177.00 L422.50 183.75 L423.75 203.75 L443.75 203.75 L443.75 198.75 L487.00 202.00 L492.50 240.00 L426.00 234.00 L426.00 248.75 L383.75 240.00 L383.75 227.50 L339.50 223.75 L339.50 275.50 L310.00 271.75 L306.25 225.50 Z"/>
<path d="M128.00 196.25 C135.00 194.58 153.33 189.38 170.00 186.25 C186.67 183.12 218.33 178.96 228.00 177.50 L252.50 271.25 C248.75 272.08 237.92 274.38 230.00 276.25 C222.08 278.12 209.17 281.46 205.00 282.50 L185.50 235.00 L148.00 243.00 Z"/>
<path d="M135.50 245.00 L185.50 235.00 L205.00 282.50 L173.75 290.00 L163.00 271.00 L152.50 273.75 Z"/>
<path d="M152.50 273.75 L163.00 271.00 L173.75 290.00 L162.50 293.00 Z"/>
<path d="M228.50 177.80 C234.58 177.67 252.67 176.63 265.00 177.00 C277.33 177.37 296.25 179.50 302.50 180.00 L306.25 225.50 L241.25 225.50 Z"/>
<path d="M241.25 225.50 L306.25 225.50 L310.00 271.75 C305.42 271.46 291.97 270.09 282.50 270.00 C273.03 269.91 258.08 271.00 253.20 271.20 Z"/>
<path d="M487.00 202.00 C493.97 200.97 516.88 197.87 528.80 195.80 C540.72 193.73 553.55 190.63 558.50 189.60 L573.75 224.50 L547.30 234.20 L492.50 240.00 Z"/>
<path d="M469.30 241.00 C476.08 240.50 496.97 239.28 510.00 238.00 C523.03 236.72 541.25 234.08 547.50 233.30 L566.00 283.20 C557.50 284.07 529.83 286.97 515.00 288.40 C500.17 289.83 483.33 291.23 477.00 291.80 Z"/>
<path d="M558.50 189.60 C562.75 188.13 575.75 183.57 584.00 180.80 C592.25 178.03 604.00 174.30 608.00 173.00 L633.30 209.50 L642.50 206.00 L666.00 239.80 C661.50 242.13 650.38 248.68 639.00 253.80 C627.62 258.92 609.87 265.60 597.70 270.50 C585.53 275.40 571.28 281.08 566.00 283.20 L547.30 234.20 L573.75 224.50 Z"/>
</g>
<path d="M302.50 180.00 L358.75 188.00 L360.00 199.50 L383.75 202.00 L385.00 177.00 L422.50 183.75 L423.75 203.75 L443.75 203.75 L443.75 198.75 L487.00 202.00 L492.50 240.00 L426.00 234.00 L426.00 248.75 L383.75 240.00 L383.75 227.50 L339.50 223.75 L339.50 275.50 L310.00 271.75 L306.25 225.50 Z" fill="#dedefd" stroke="#6e6e6e" stroke-width="0.7" stroke-linejoin="round"/>
<path d="M128.00 196.25 C135.00 194.58 153.33 189.38 170.00 186.25 C186.67 183.12 218.33 178.96 228.00 177.50 L252.50 271.25 C248.75 272.08 237.92 274.38 230.00 276.25 C222.08 278.12 209.17 281.46 205.00 282.50 L185.50 235.00 L148.00 243.00 Z" fill="#ccf6bd" stroke="#6e6e6e" stroke-width="0.7" stroke-linejoin="round"/>
<path d="M135.50 245.00 L185.50 235.00 L205.00 282.50 L173.75 290.00 L163.00 271.00 L152.50 273.75 Z" fill="#fedebe" stroke="#6e6e6e" stroke-width="0.7" stroke-linejoin="round"/>
<path d="M152.50 273.75 L163.00 271.00 L173.75 290.00 L162.50 293.00 Z" fill="#acf6f6" stroke="#6e6e6e" stroke-width="0.7" stroke-linejoin="round"/>
<path d="M228.50 177.80 C234.58 177.67 252.67 176.63 265.00 177.00 C277.33 177.37 296.25 179.50 302.50 180.00 L306.25 225.50 L241.25 225.50 Z" fill="#c2f5f8" stroke="#6e6e6e" stroke-width="0.7" stroke-linejoin="round"/>
<path d="M241.25 225.50 L306.25 225.50 L310.00 271.75 C305.42 271.46 291.97 270.09 282.50 270.00 C273.03 269.91 258.08 271.00 253.20 271.20 Z" fill="#fedebe" stroke="#6e6e6e" stroke-width="0.7" stroke-linejoin="round"/>
<path d="M487.00 202.00 C493.97 200.97 516.88 197.87 528.80 195.80 C540.72 193.73 553.55 190.63 558.50 189.60 L573.75 224.50 L547.30 234.20 L492.50 240.00 Z" fill="#fedebe" stroke="#6e6e6e" stroke-width="0.7" stroke-linejoin="round"/>
<path d="M469.30 241.00 C476.08 240.50 496.97 239.28 510.00 238.00 C523.03 236.72 541.25 234.08 547.50 233.30 L566.00 283.20 C557.50 284.07 529.83 286.97 515.00 288.40 C500.17 289.83 483.33 291.23 477.00 291.80 Z" fill="#ccf6bd" stroke="#6e6e6e" stroke-width="0.7" stroke-linejoin="round"/>
<path d="M558.50 189.60 C562.75 188.13 575.75 183.57 584.00 180.80 C592.25 178.03 604.00 174.30 608.00 173.00 L633.30 209.50 L642.50 206.00 L666.00 239.80 C661.50 242.13 650.38 248.68 639.00 253.80 C627.62 258.92 609.87 265.60 597.70 270.50 C585.53 275.40 571.28 281.08 566.00 283.20 L547.30 234.20 L573.75 224.50 Z" fill="#c2f5f8" stroke="#6e6e6e" stroke-width="0.7" stroke-linejoin="round"/>
<g opacity="0.995">
<text x="198.70" y="216.20" font-size="14.30" font-weight="500" font-family="'Liberation Sans','Noto Sans CJK SC',sans-serif" fill="#111" text-anchor="middle" textLength="43.0" lengthAdjust="spacingAndGlyphs" transform="rotate(-13.0 198.70 211.20)" >香港馆</text>
<text x="203.00" y="223.19" font-size="7.40" font-weight="400" font-family="'Liberation Sans',sans-serif" fill="#111" text-anchor="middle" textLength="53.0" lengthAdjust="spacingAndGlyphs" transform="rotate(-15.0 203.00 220.60)" stroke="#111" stroke-width="0.22">HongKong Hall</text>
<text x="169.50" y="256.10" font-size="14.00" font-weight="500" font-family="'Liberation Sans','Noto Sans CJK SC',sans-serif" fill="#111" text-anchor="middle" textLength="41.5" lengthAdjust="spacingAndGlyphs" transform="rotate(-14.0 169.50 251.20)" >安徽馆</text>
<text x="174.50" y="264.59" font-size="7.40" font-weight="400" font-family="'Liberation Sans',sans-serif" fill="#111" text-anchor="middle" textLength="36.0" lengthAdjust="spacingAndGlyphs" transform="rotate(-14.0 174.50 262.00)" stroke="#111" stroke-width="0.22">Anhui Hall</text>
<text x="116.70" y="292.00" font-size="14.00" font-weight="500" font-family="'Liberation Sans','Noto Sans CJK SC',sans-serif" fill="#111" text-anchor="middle" textLength="56.0" lengthAdjust="spacingAndGlyphs" transform="rotate(-16.3 116.70 287.10)" >乐清低压</text>
<text x="121.50" y="308.90" font-size="14.00" font-weight="500" font-family="'Liberation Sans','Noto Sans CJK SC',sans-serif" fill="#111" text-anchor="middle" textLength="42.0" lengthAdjust="spacingAndGlyphs" transform="rotate(-16.8 121.50 304.00)" >电器馆</text>
<text x="268.00" y="202.40" font-size="14.00" font-weight="500" font-family="'Liberation Sans','Noto Sans CJK SC',sans-serif" fill="#111" text-anchor="middle" textLength="41.7" lengthAdjust="spacingAndGlyphs" >四川馆</text>
<text x="269.20" y="210.59" font-size="7.40" font-weight="400" font-family="'Liberation Sans',sans-serif" fill="#111" text-anchor="middle" textLength="44.0" lengthAdjust="spacingAndGlyphs" stroke="#111" stroke-width="0.22">Sichuan Hall</text>
<text x="278.00" y="244.40" font-size="14.00" font-weight="500" font-family="'Liberation Sans','Noto Sans CJK SC',sans-serif" fill="#111" text-anchor="middle" textLength="41.7" lengthAdjust="spacingAndGlyphs" >韩商馆</text>
<text x="278.80" y="252.59" font-size="7.40" font-weight="400" font-family="'Liberation Sans',sans-serif" fill="#111" text-anchor="middle" stroke="#111" stroke-width="0.22">Korean</text>
<text x="280.70" y="261.29" font-size="7.40" font-weight="400" font-family="'Liberation Sans',sans-serif" fill="#111" text-anchor="middle" textLength="56.0" lengthAdjust="spacingAndGlyphs" stroke="#111" stroke-width="0.22">Commodity Hall</text>
<text x="408.30" y="217.47" font-size="14.20" font-weight="500" font-family="'Liberation Sans','Noto Sans CJK SC',sans-serif" fill="#111" text-anchor="middle" textLength="70.7" lengthAdjust="spacingAndGlyphs" >五金・电器</text>
<text x="407.50" y="226.29" font-size="7.40" font-weight="400" font-family="'Liberation Sans',sans-serif" fill="#111" text-anchor="middle" textLength="112.5" lengthAdjust="spacingAndGlyphs" transform="rotate(0.6 407.50 223.70)" stroke="#111" stroke-width="0.22">Hardware and electric appliance</text>
<text x="523.40" y="215.92" font-size="13.50" font-weight="500" font-family="'Liberation Sans','Noto Sans CJK SC',sans-serif" fill="#111" text-anchor="middle" textLength="24.5" lengthAdjust="spacingAndGlyphs" transform="rotate(-3.0 523.40 211.20)" >电子</text>
<text x="525.00" y="224.59" font-size="7.40" font-weight="400" font-family="'Liberation Sans',sans-serif" fill="#111" text-anchor="middle" textLength="26.0" lengthAdjust="spacingAndGlyphs" transform="rotate(-3.0 525.00 222.00)" stroke="#111" stroke-width="0.22">Electric</text>
<text x="513.70" y="265.00" font-size="14.30" font-weight="500" font-family="'Liberation Sans','Noto Sans CJK SC',sans-serif" fill="#111" text-anchor="middle" textLength="71.5" lengthAdjust="spacingAndGlyphs" transform="rotate(-3.0 513.70 260.00)" >精品箱包区</text>
<text x="516.20" y="273.79" font-size="7.40" font-weight="400" font-family="'Liberation Sans',sans-serif" fill="#111" text-anchor="middle" textLength="80.0" lengthAdjust="spacingAndGlyphs" transform="rotate(-3.0 516.20 271.20)" stroke="#111" stroke-width="0.22">Products luggage area</text>
<text x="599.50" y="232.28" font-size="12.80" font-weight="500" font-family="'Liberation Sans','Noto Sans CJK SC',sans-serif" fill="#111" text-anchor="middle" textLength="25.5" lengthAdjust="spacingAndGlyphs" transform="rotate(-20.0 599.50 227.80)" >钟表</text>
<text x="609.70" y="238.79" font-size="7.40" font-weight="400" font-family="'Liberation Sans',sans-serif" fill="#111" text-anchor="middle" textLength="63.5" lengthAdjust="spacingAndGlyphs" transform="rotate(-20.7 609.70 236.20)" stroke="#111" stroke-width="0.22">Clocks &amp; watches</text>
</g>
</g>
<rect x="169.60" y="134.00" width="7.70" height="98.50" fill="url(#pil)"/><ellipse cx="173.45" cy="232.50" rx="3.85" ry="1.2" fill="url(#pil)"/>
<rect x="596.80" y="128.00" width="7.70" height="90.70" fill="url(#pil)"/><ellipse cx="600.65" cy="218.70" rx="3.85" ry="1.2" fill="url(#pil)"/>
<g id="f5">
<g transform="translate(1.1,2.0)" fill="#c6c6c6" stroke="#c6c6c6" stroke-width="0.8" stroke-linejoin="round">
<path d="M128.40 36.20 C133.67 35.00 148.07 31.10 160.00 29.00 C171.93 26.90 186.67 25.07 200.00 23.60 C213.33 22.13 226.67 20.80 240.00 20.20 C253.33 19.60 266.67 19.43 280.00 20.00 C293.33 20.57 308.33 22.27 320.00 23.60 C331.67 24.93 342.25 26.60 350.00 28.00 C357.75 29.40 363.75 31.33 366.50 32.00 L367.00 71.80 C363.50 71.75 353.83 71.88 346.00 71.50 C338.17 71.12 331.00 70.12 320.00 69.50 C309.00 68.88 293.33 67.88 280.00 67.80 C266.67 67.72 253.33 68.07 240.00 69.00 C226.67 69.93 213.33 71.68 200.00 73.40 C186.67 75.12 168.42 77.82 160.00 79.30 C151.58 80.78 151.25 81.80 149.50 82.30 Z"/>
<path d="M135.60 83.60 C139.67 82.92 149.27 81.17 160.00 79.50 C170.73 77.83 186.67 75.28 200.00 73.60 C213.33 71.92 226.67 70.33 240.00 69.40 C253.33 68.47 266.67 67.90 280.00 68.00 C293.33 68.10 309.00 69.08 320.00 70.00 C331.00 70.92 341.67 72.92 346.00 73.50 L346.00 124.40 C341.67 123.93 331.00 122.40 320.00 121.60 C309.00 120.80 293.33 119.60 280.00 119.60 C266.67 119.60 253.33 120.13 240.00 121.60 C226.67 123.07 213.08 125.75 200.00 128.40 C186.92 131.05 167.92 135.98 161.50 137.50 Z"/>
<path d="M450.00 53.00 C456.17 53.05 474.71 53.63 487.00 53.30 C499.29 52.97 517.62 51.38 523.75 51.00 L536.00 94.50 C530.00 95.08 513.17 97.08 500.00 98.00 C486.83 98.92 464.17 99.67 457.00 100.00 Z"/>
<path d="M523.75 51.00 C530.62 49.58 553.96 45.17 565.00 42.50 C576.04 39.83 582.33 37.75 590.00 35.00 C597.67 32.25 607.50 27.50 611.00 26.00 L635.00 68.00 L536.00 94.50 Z"/>
<path d="M475.00 97.50 C482.50 97.42 505.83 98.08 520.00 97.00 C534.17 95.92 546.67 94.00 560.00 91.00 C573.33 88.00 588.00 83.00 600.00 79.00 C612.00 75.00 624.08 70.00 632.00 67.00 C639.92 64.00 644.92 62.00 647.50 61.00 L671.00 103.00 C665.83 105.50 651.83 113.00 640.00 118.00 C628.17 123.00 613.33 129.00 600.00 133.00 C586.67 137.00 570.00 140.00 560.00 142.00 C550.00 144.00 546.67 144.17 540.00 145.00 C533.33 145.83 529.17 146.75 520.00 147.00 C510.83 147.25 490.83 146.58 485.00 146.50 Z"/>
</g>
<g transform="translate(0.6,1.1)" fill="#a2a2a2" stroke="#a2a2a2" stroke-width="0.8" stroke-linejoin="round">
<path d="M128.40 36.20 C133.67 35.00 148.07 31.10 160.00 29.00 C171.93 26.90 186.67 25.07 200.00 23.60 C213.33 22.13 226.67 20.80 240.00 20.20 C253.33 19.60 266.67 19.43 280.00 20.00 C293.33 20.57 308.33 22.27 320.00 23.60 C331.67 24.93 342.25 26.60 350.00 28.00 C357.75 29.40 363.75 31.33 366.50 32.00 L367.00 71.80 C363.50 71.75 353.83 71.88 346.00 71.50 C338.17 71.12 331.00 70.12 320.00 69.50 C309.00 68.88 293.33 67.88 280.00 67.80 C266.67 67.72 253.33 68.07 240.00 69.00 C226.67 69.93 213.33 71.68 200.00 73.40 C186.67 75.12 168.42 77.82 160.00 79.30 C151.58 80.78 151.25 81.80 149.50 82.30 Z"/>
<path d="M135.60 83.60 C139.67 82.92 149.27 81.17 160.00 79.50 C170.73 77.83 186.67 75.28 200.00 73.60 C213.33 71.92 226.67 70.33 240.00 69.40 C253.33 68.47 266.67 67.90 280.00 68.00 C293.33 68.10 309.00 69.08 320.00 70.00 C331.00 70.92 341.67 72.92 346.00 73.50 L346.00 124.40 C341.67 123.93 331.00 122.40 320.00 121.60 C309.00 120.80 293.33 119.60 280.00 119.60 C266.67 119.60 253.33 120.13 240.00 121.60 C226.67 123.07 213.08 125.75 200.00 128.40 C186.92 131.05 167.92 135.98 161.50 137.50 Z"/>
<path d="M450.00 53.00 C456.17 53.05 474.71 53.63 487.00 53.30 C499.29 52.97 517.62 51.38 523.75 51.00 L536.00 94.50 C530.00 95.08 513.17 97.08 500.00 98.00 C486.83 98.92 464.17 99.67 457.00 100.00 Z"/>
<path d="M523.75 51.00 C530.62 49.58 553.96 45.17 565.00 42.50 C576.04 39.83 582.33 37.75 590.00 35.00 C597.67 32.25 607.50 27.50 611.00 26.00 L635.00 68.00 L536.00 94.50 Z"/>
<path d="M475.00 97.50 C482.50 97.42 505.83 98.08 520.00 97.00 C534.17 95.92 546.67 94.00 560.00 91.00 C573.33 88.00 588.00 83.00 600.00 79.00 C612.00 75.00 624.08 70.00 632.00 67.00 C639.92 64.00 644.92 62.00 647.50 61.00 L671.00 103.00 C665.83 105.50 651.83 113.00 640.00 118.00 C628.17 123.00 613.33 129.00 600.00 133.00 C586.67 137.00 570.00 140.00 560.00 142.00 C550.00 144.00 546.67 144.17 540.00 145.00 C533.33 145.83 529.17 146.75 520.00 147.00 C510.83 147.25 490.83 146.58 485.00 146.50 Z"/>
</g>
<path d="M366.00 37.50 L389.00 42.50 L389.50 15.50 L410.00 19.00 L412.50 22.50 L415.50 20.00 L430.00 24.00 L431.00 49.00 L450.00 53.00 L455.00 87.50 L435.00 87.50 L435.00 94.00 L430.50 93.00 L391.00 86.00 L387.50 79.50 L346.00 71.00 L346.00 60.00 Z" fill="#ffffff" stroke="#858585" stroke-width="0.7" stroke-linejoin="round"/>
<path d="M346.00 70.50 L351.00 71.00 L351.00 127.00 L346.00 126.00 Z" fill="#f2f2f2" stroke="#9a9a9a" stroke-width="0.6" stroke-linejoin="round"/>
<path d="M366.50 32.30 L370.70 34.20 L370.70 72.30 L367.00 71.80 Z" fill="#cfcfcf" stroke="none" stroke-width="0" stroke-linejoin="round"/>
<path d="M128.40 36.20 C133.67 35.00 148.07 31.10 160.00 29.00 C171.93 26.90 186.67 25.07 200.00 23.60 C213.33 22.13 226.67 20.80 240.00 20.20 C253.33 19.60 266.67 19.43 280.00 20.00 C293.33 20.57 308.33 22.27 320.00 23.60 C331.67 24.93 342.25 26.60 350.00 28.00 C357.75 29.40 363.75 31.33 366.50 32.00 L367.00 71.80 C363.50 71.75 353.83 71.88 346.00 71.50 C338.17 71.12 331.00 70.12 320.00 69.50 C309.00 68.88 293.33 67.88 280.00 67.80 C266.67 67.72 253.33 68.07 240.00 69.00 C226.67 69.93 213.33 71.68 200.00 73.40 C186.67 75.12 168.42 77.82 160.00 79.30 C151.58 80.78 151.25 81.80 149.50 82.30 Z" fill="#fed6d6" stroke="#6e6e6e" stroke-width="0.7" stroke-linejoin="round"/>
<path d="M135.60 83.60 C139.67 82.92 149.27 81.17 160.00 79.50 C170.73 77.83 186.67 75.28 200.00 73.60 C213.33 71.92 226.67 70.33 240.00 69.40 C253.33 68.47 266.67 67.90 280.00 68.00 C293.33 68.10 309.00 69.08 320.00 70.00 C331.00 70.92 341.67 72.92 346.00 73.50 L346.00 124.40 C341.67 123.93 331.00 122.40 320.00 121.60 C309.00 120.80 293.33 119.60 280.00 119.60 C266.67 119.60 253.33 120.13 240.00 121.60 C226.67 123.07 213.08 125.75 200.00 128.40 C186.92 131.05 167.92 135.98 161.50 137.50 Z" fill="#acf6f6" stroke="#6e6e6e" stroke-width="0.7" stroke-linejoin="round"/>
<path d="M392.60 29.60 L428.40 36.20 L431.00 93.40 L391.00 85.00 Z" fill="#d8fad0" stroke="#7d8a7d" stroke-width="0.7" stroke-linejoin="round"/>
<path d="M450.00 53.00 C456.17 53.05 474.71 53.63 487.00 53.30 C499.29 52.97 517.62 51.38 523.75 51.00 L536.00 94.50 C530.00 95.08 513.17 97.08 500.00 98.00 C486.83 98.92 464.17 99.67 457.00 100.00 Z" fill="#f3d4fb" stroke="#6e6e6e" stroke-width="0.7" stroke-linejoin="round"/>
<path d="M523.75 51.00 C530.62 49.58 553.96 45.17 565.00 42.50 C576.04 39.83 582.33 37.75 590.00 35.00 C597.67 32.25 607.50 27.50 611.00 26.00 L635.00 68.00 L536.00 94.50 Z" fill="#fed6d6" stroke="#6e6e6e" stroke-width="0.7" stroke-linejoin="round"/>
<path d="M475.00 97.50 C482.50 97.42 505.83 98.08 520.00 97.00 C534.17 95.92 546.67 94.00 560.00 91.00 C573.33 88.00 588.00 83.00 600.00 79.00 C612.00 75.00 624.08 70.00 632.00 67.00 C639.92 64.00 644.92 62.00 647.50 61.00 L671.00 103.00 C665.83 105.50 651.83 113.00 640.00 118.00 C628.17 123.00 613.33 129.00 600.00 133.00 C586.67 137.00 570.00 140.00 560.00 142.00 C550.00 144.00 546.67 144.17 540.00 145.00 C533.33 145.83 529.17 146.75 520.00 147.00 C510.83 147.25 490.83 146.58 485.00 146.50 Z" fill="#acf6f6" stroke="#6e6e6e" stroke-width="0.7" stroke-linejoin="round"/>
<circle cx="409.2" cy="40.2" r="2.3" fill="#f00"/><circle cx="408.8" cy="83" r="2.3" fill="#f00"/>
<g opacity="0.995">
<text x="250.50" y="46.80" font-size="14.30" font-weight="500" font-family="'Liberation Sans','Noto Sans CJK SC',sans-serif" fill="#111" text-anchor="middle" textLength="171.0" lengthAdjust="spacingAndGlyphs" transform="rotate(-1.9 250.50 41.80)" >外贸机构办事处・厂家直销</text>
<text x="249.00" y="57.29" font-size="7.40" font-weight="400" font-family="'Liberation Sans',sans-serif" fill="#111" text-anchor="middle" textLength="126.0" lengthAdjust="spacingAndGlyphs" transform="rotate(-1.3 249.00 54.70)" stroke="#111" stroke-width="0.22">Foreign Trade Organization Ageney</text>
<text x="245.50" y="93.47" font-size="14.20" font-weight="500" font-family="'Liberation Sans','Noto Sans CJK SC',sans-serif" fill="#111" text-anchor="middle" textLength="71.0" lengthAdjust="spacingAndGlyphs" >屋顶停车场</text>
<text x="245.30" y="101.79" font-size="7.40" font-weight="400" font-family="'Liberation Sans',sans-serif" fill="#111" text-anchor="middle" textLength="62.5" lengthAdjust="spacingAndGlyphs" stroke="#111" stroke-width="0.22">Roof Parking Lots</text>
<text x="419.00" y="32.09" font-size="11.10" font-weight="400" font-family="'Liberation Sans','Noto Sans CJK SC',sans-serif" fill="#111" text-anchor="middle" textLength="123.0" lengthAdjust="spacingAndGlyphs" transform="rotate(8.2 419.00 28.20)" >中移动义乌集中采购基地</text>
<text x="410.00" y="99.16" font-size="11.30" font-weight="400" font-family="'Liberation Sans','Noto Sans CJK SC',sans-serif" fill="#111" text-anchor="middle" textLength="114.0" lengthAdjust="spacingAndGlyphs" transform="rotate(7.8 410.00 95.20)" >外交部联合国采购中心</text>
<text x="492.00" y="73.77" font-size="14.20" font-weight="500" font-family="'Liberation Sans','Noto Sans CJK SC',sans-serif" fill="#111" text-anchor="middle" textLength="56.7" lengthAdjust="spacingAndGlyphs" transform="rotate(-1.0 492.00 68.80)" >商城外贸</text>
<text x="493.40" y="83.89" font-size="7.40" font-weight="400" font-family="'Liberation Sans',sans-serif" fill="#111" text-anchor="middle" textLength="95.7" lengthAdjust="spacingAndGlyphs" transform="rotate(-1.5 493.40 81.30)" stroke="#111" stroke-width="0.22">Commodity Foreign Trades</text>
<text x="604.20" y="54.37" font-size="14.20" font-weight="500" font-family="'Liberation Sans','Noto Sans CJK SC',sans-serif" fill="#111" text-anchor="middle" textLength="99.3" lengthAdjust="spacingAndGlyphs" transform="rotate(-10.9 604.20 49.40)" >外贸机构办事处</text>
<text x="603.80" y="61.39" font-size="7.40" font-weight="400" font-family="'Liberation Sans',sans-serif" fill="#111" text-anchor="middle" textLength="127.5" lengthAdjust="spacingAndGlyphs" transform="rotate(-11.3 603.80 58.80)" stroke="#111" stroke-width="0.22">Foreign Trades Organization Agercy</text>
<text x="565.20" y="114.90" font-size="14.00" font-weight="500" font-family="'Liberation Sans','Noto Sans CJK SC',sans-serif" fill="#111" text-anchor="middle" textLength="69.5" lengthAdjust="spacingAndGlyphs" transform="rotate(-1.0 565.20 110.00)" >屋顶停车场</text>
<text x="565.00" y="122.59" font-size="7.40" font-weight="400" font-family="'Liberation Sans',sans-serif" fill="#111" text-anchor="middle" textLength="62.5" lengthAdjust="spacingAndGlyphs" transform="rotate(-1.0 565.00 120.00)" stroke="#111" stroke-width="0.22">Roof Parking Lots</text>
</g>
</g>
<g opacity="0.995">
<rect x="686.1" y="106.7" width="28" height="27.7" rx="5.2" fill="#ffffff" opacity="0.75"/>
<rect x="686.6" y="107.2" width="27" height="26.7" rx="4.8" fill="#1b6999"/>
<rect x="688.3" y="108.9" width="23.6" height="23.3" rx="3.4" fill="#1f71a2"/>
<text transform="translate(701.3 128.8) scale(0.67 1)" text-anchor="middle" font-family="'Liberation Sans',sans-serif" font-weight="700" font-size="21.6" fill="#fff" stroke="#fff" stroke-width="0.9">5F</text>
<rect x="686.1" y="262.4" width="28" height="27.7" rx="5.2" fill="#ffffff" opacity="0.75"/>
<rect x="686.6" y="262.9" width="27" height="26.7" rx="4.8" fill="#1b6999"/>
<rect x="688.3" y="264.6" width="23.6" height="23.3" rx="3.4" fill="#1f71a2"/>
<text transform="translate(701.3 284.5) scale(0.67 1)" text-anchor="middle" font-family="'Liberation Sans',sans-serif" font-weight="700" font-size="21.6" fill="#fff" stroke="#fff" stroke-width="0.9">4F</text>
<rect x="686.1" y="414.4" width="28" height="27.7" rx="5.2" fill="#ffffff" opacity="0.75"/>
<rect x="686.6" y="414.9" width="27" height="26.7" rx="4.8" fill="#1b6999"/>
<rect x="688.3" y="416.6" width="23.6" height="23.3" rx="3.4" fill="#1f71a2"/>
<text transform="translate(701.3 436.5) scale(0.67 1)" text-anchor="middle" font-family="'Liberation Sans',sans-serif" font-weight="700" font-size="21.6" fill="#fff" stroke="#fff" stroke-width="0.9">3F</text>
<rect x="686.1" y="555.6" width="28" height="27.7" rx="5.2" fill="#ffffff" opacity="0.75"/>
<rect x="686.6" y="556.1" width="27" height="26.7" rx="4.8" fill="#1b6999"/>
<rect x="688.3" y="557.8" width="23.6" height="23.3" rx="3.4" fill="#1f71a2"/>
<text transform="translate(701.3 577.7) scale(0.67 1)" text-anchor="middle" font-family="'Liberation Sans',sans-serif" font-weight="700" font-size="21.6" fill="#fff" stroke="#fff" stroke-width="0.9">2F</text>
<rect x="686.1" y="693.4" width="28" height="27.7" rx="5.2" fill="#ffffff" opacity="0.75"/>
<rect x="686.6" y="693.9" width="27" height="26.7" rx="4.8" fill="#1b6999"/>
<rect x="688.3" y="695.6" width="23.6" height="23.3" rx="3.4" fill="#1f71a2"/>
<text transform="translate(701.3 715.5) scale(0.67 1)" text-anchor="middle" font-family="'Liberation Sans',sans-serif" font-weight="700" font-size="21.6" fill="#fff" stroke="#fff" stroke-width="0.9">1F</text>
<text x="596.7" y="773" font-size="13.4" font-weight="350" font-family="'Liberation Sans','Noto Sans CJK SC',sans-serif" fill="#2e2e2e" text-anchor="middle" textLength="220.5" lengthAdjust="spacing">国际商贸城二区行业布局及交通图</text>
<text x="597.80" y="782.81" font-size="5.30" font-weight="400" font-family="'Liberation Sans',sans-serif" fill="#444" text-anchor="middle" textLength="223.0" lengthAdjust="spacingAndGlyphs" >The Major Industry layout and transport map of International Trade Mart District Two</text>
</g>
</svg>
</body></html>
